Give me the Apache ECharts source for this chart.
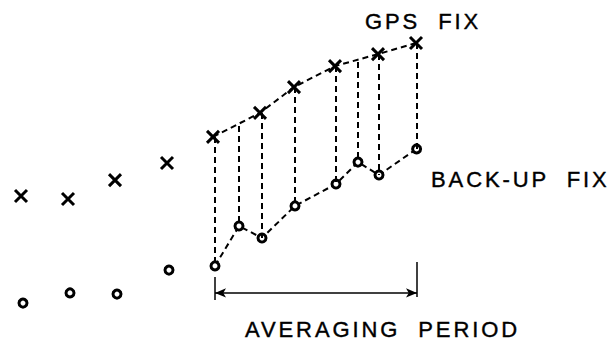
<!DOCTYPE html>
<html>
<head>
<meta charset="utf-8">
<title>GPS fix averaging</title>
<script src="https://cdn.jsdelivr.net/npm/echarts@6/dist/echarts.min.js"></script>
<style>
  html, body { margin: 0; padding: 0; background: #fff; }
  #chart { width: 616px; height: 345px; }
  /* lettering in the drawing is spaced out a bit */
  #chart text { letter-spacing: 2.9px; }
</style>
</head>
<body>
<div id="chart"></div>
<script>
// time (x) and position (y) in arbitrary units
var gpsPreT = [0, 11.75, 23.5, 36.5]
var gpsPreY = [43, 42, 48.3, 54]
var backupPreT = [0.5, 12.25, 24, 37]
var backupPreY = [7.3, 10.7, 10.3, 18.3]

var gpsAvgT = [48, 59.75, 68.25, 78.5, 89.25, 98.75]
var gpsAvgY = [62.7, 70.7, 79.3, 86.3, 90.3, 94]
var backupAvgT = [48.5, 54.5, 60.25, 68.5, 78.75, 84.25, 89.5, 98.9]
var backupAvgY = [19.7, 33, 29, 39.7, 47, 54.3, 50, 58.7]
// top end of each dashed drop line (on the GPS line)
var dropTopY = [62.7, 66.3, 70.7, 79.3, 86.3, 87.7, 90.3, 94]

// averaging period bracket
var periodStart = 48.5
var periodEnd = 99
var periodArrowY = 10.7
var periodLeftTick = [8.3, 16]
var periodRightTick = [9.3, 21]

var labels = {
  gps: 'GPS  FIX',
  backup: 'BACK-UP  FIX',
  period: 'AVERAGING  PERIOD'
}

function pairs(t, y) {
  return t.map(function(v, i) { return [v, y[i]] })
}

var crossSymbol = 'path://M0,0L12,12M12,0L0,12'
var dash = [6, 4]
var crossStyle = { color: '#000', borderColor: '#000', borderWidth: 3, opacity: 1 }
var ringStyle = { color: '#fff', borderColor: '#000', borderWidth: 3, opacity: 1 }
var textBase = { fill: '#000', stroke: '#000', lineWidth: 0.4, textAlign: 'left', textVerticalAlign: 'middle' }

var option = {
  animation: false,
  grid: { left: 21, top: 25, width: 400, height: 300 },
  xAxis: { type: 'value', min: 0, max: 100, show: false },
  yAxis: { type: 'value', min: 0, max: 100, show: false },
  series: [
    {
      type: 'scatter',
      data: pairs(gpsPreT, gpsPreY),
      symbol: crossSymbol,
      symbolSize: 12,
      itemStyle: crossStyle
    },
    {
      type: 'scatter',
      data: pairs(backupPreT, backupPreY),
      symbol: 'circle',
      symbolSize: 8,
      itemStyle: ringStyle
    },
    {
      type: 'line',
      z: 3,
      data: pairs(gpsAvgT, gpsAvgY),
      symbol: crossSymbol,
      symbolSize: 12,
      showAllSymbol: true,
      itemStyle: crossStyle,
      lineStyle: { color: '#000', width: 2, type: dash }
    },
    {
      type: 'line',
      z: 3,
      data: pairs(backupAvgT, backupAvgY),
      symbol: 'circle',
      symbolSize: 8,
      showAllSymbol: true,
      itemStyle: ringStyle,
      lineStyle: { color: '#000', width: 2, type: dash },
      markLine: {
        silent: true,
        symbol: 'none',
        label: { show: false },
        lineStyle: { color: '#000', width: 2, type: dash },
        data: backupAvgT.map(function(t, i) {
          return [{ coord: [t, dropTopY[i]] }, { coord: [t, backupAvgY[i]] }]
        })
      }
    },
    {
      // bracket under the averaging period
      type: 'line',
      data: [],
      markLine: {
        silent: true,
        label: { show: false },
        lineStyle: { color: '#000', width: 1.5, type: 'solid' },
        data: [
          [{ coord: [periodStart, periodArrowY], symbol: 'arrow', symbolSize: [7, 11] },
            { coord: [periodEnd, periodArrowY], symbol: 'arrow', symbolSize: [7, 11] }],
          [{ coord: [periodStart, periodLeftTick[0]], symbol: 'none' },
            { coord: [periodStart, periodLeftTick[1]], symbol: 'none' }],
          [{ coord: [periodEnd, periodRightTick[0]], symbol: 'none' },
            { coord: [periodEnd, periodRightTick[1]], symbol: 'none' }]
        ]
      }
    }
  ],
  graphic: [
    {
      type: 'text', x: 365, y: 21,
      style: Object.assign({ text: labels.gps, font: '22px "Liberation Sans"' }, textBase)
    },
    {
      type: 'text', x: 431, y: 179.5,
      style: Object.assign({ text: labels.backup, font: '22px "Liberation Sans"' }, textBase)
    },
    {
      type: 'text', x: 245, y: 329.5,
      style: Object.assign({ text: labels.period, font: '22px "Liberation Sans"' }, textBase)
    }
  ]
}

var myChart = echarts.init(document.getElementById('chart'), null, { renderer: 'svg' })
myChart.setOption(option)
</script>
</body>
</html>
